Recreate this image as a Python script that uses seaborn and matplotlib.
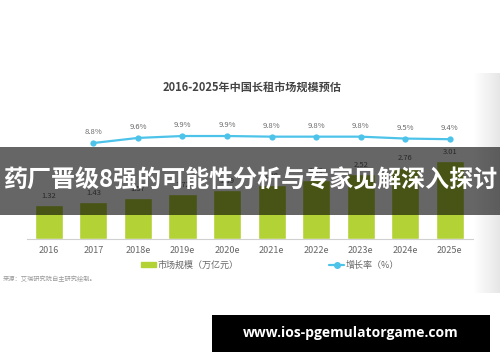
import matplotlib
matplotlib.use("Agg")
import matplotlib.pyplot as plt
import matplotlib.patches as mpatches
from matplotlib.lines import Line2D
from matplotlib.colors import LinearSegmentedColormap
import numpy as np
import pandas as pd
import seaborn as sns

years = ["2016", "2017", "2018e", "2019e", "2020e", "2021e", "2022e", "2023e", "2024e", "2025e"]
market = [1.32, 1.43, 1.57, 1.72, 1.89, 2.08, 2.29, 2.52, 2.76, 3.01]
growth = [None, 8.8, 9.6, 9.9, 9.9, 9.8, 9.8, 9.8, 9.5, 9.4]

title = "2016-2025年中国长租市场规模预估"
bar_name = "市场规模（万亿元）"
line_name = "增长率（%）"
source = "来源：艾瑞研究院自主研究绘制。"
banner = "药厂晋级8强的可能性分析与专家见解深入探讨"
site = "www.ios-pgemulatorgame.com"

sns.set_style("white")
plt.rcParams['font.family'] = ['Noto Sans CJK SC', 'DejaVu Sans']

W, H = 500, 362
green = "#b3d235"
blue = "#4dc3ea"
grey = "#666666"

df = pd.DataFrame({"year": years, "market": market, "growth": growth})
df["pos"] = range(len(years))

fig = plt.figure(figsize=(5, 3.62), dpi=100)

def px(x0, y0, x1, y1):
    # pixel box (top-left origin) -> figure fraction
    return [x0 / W, 1 - y1 / H, (x1 - x0) / W, (y1 - y0) / H]

# faint grey fade at the right edge of the screenshot
fade = fig.add_axes(px(474, 73, 500, 293), zorder=-1)
cmap = LinearSegmentedColormap.from_list("fade", ["#ffffff", "#e6e6e6"])
fade.imshow(np.linspace(0, 1, 50)[None, :], aspect="auto", cmap=cmap)
fade.axis("off")

ax = fig.add_axes(px(27, 70, 473, 239))
sns.barplot(data=df, x="year", y="market", color=green, width=0.63,
            saturation=1, ax=ax)
ax.set_xlim(-0.49, 9.52)
ax.set_ylim(0, 169 / 25.9)
for i, v in enumerate(market):
    ax.text(i, v + 0.2, f"{v:.2f}", ha="center", va="bottom",
            fontsize=5.5, color=grey)
ax.set_xlabel("")
ax.set_ylabel("")
ax.set_yticks([])
ax.tick_params(axis="x", length=0, labelsize=6.5, labelcolor=grey, pad=5)
for s in ["top", "right", "left"]:
    ax.spines[s].set_visible(False)
ax.spines["bottom"].set_color("#d0d0d0")
ax.spines["bottom"].set_linewidth(0.8)
ax.patch.set_alpha(0)

ax2 = ax.twinx()
sns.lineplot(data=df.dropna(), x="pos", y="growth", color=blue, lw=1.6,
             marker="o", markersize=4.5, markeredgewidth=0, ax=ax2)
ax2.set_ylim(-6.29, 20.28)
ax2.set_xlim(-0.49, 9.52)
for i, g in enumerate(growth):
    if g is not None:
        ax2.text(i, g + 1.1, f"{g:.1f}%", ha="center", va="bottom",
                 fontsize=5.5, color=grey)
ax2.set_yticks([])
ax2.set_ylabel("")
ax2.set_xlabel("")
for s in ["top", "right", "left", "bottom"]:
    ax2.spines[s].set_visible(False)

fig.text(252 / W, 1 - 87 / H, title, ha="center", va="center",
         fontsize=8, fontweight="bold", color="#444444")

handles = [mpatches.Patch(color=green, label=bar_name),
           Line2D([0], [0], color=blue, lw=1.6, marker="o", markersize=4,
                  label=line_name)]
fig.legend(handles=handles, loc="center", bbox_to_anchor=(270 / W, 1 - 265 / H),
           ncol=2, frameon=False, fontsize=6.5, handlelength=1.7,
           handleheight=0.5, columnspacing=10, handletextpad=0.2,
           labelcolor=grey)
fig.text(3 / W, 1 - 279 / H, source, ha="left", va="center", fontsize=4.5,
         color="#999999")

# dark banner overlay
fig.add_artist(mpatches.Rectangle((0, 1 - 215 / H), 1, 68 / H,
                                  transform=fig.transFigure, color="black",
                                  alpha=0.6, lw=0, zorder=10))
fig.text(250 / W, 1 - 181 / H, banner, ha="center", va="center",
         fontsize=17.3, fontweight="bold", color="white", zorder=11)

# site box at bottom
fig.add_artist(mpatches.Rectangle((212 / W, 1 - 352 / H), 278 / W, 37 / H,
                                  transform=fig.transFigure, color="black",
                                  lw=0, zorder=10))
fig.text(351 / W, 1 - 333 / H, site, ha="center", va="center",
         fontsize=10, fontweight="bold", color="white", zorder=11,
         family=["Open Sans", "DejaVu Sans"])

fig.savefig("out.png", dpi=100)
